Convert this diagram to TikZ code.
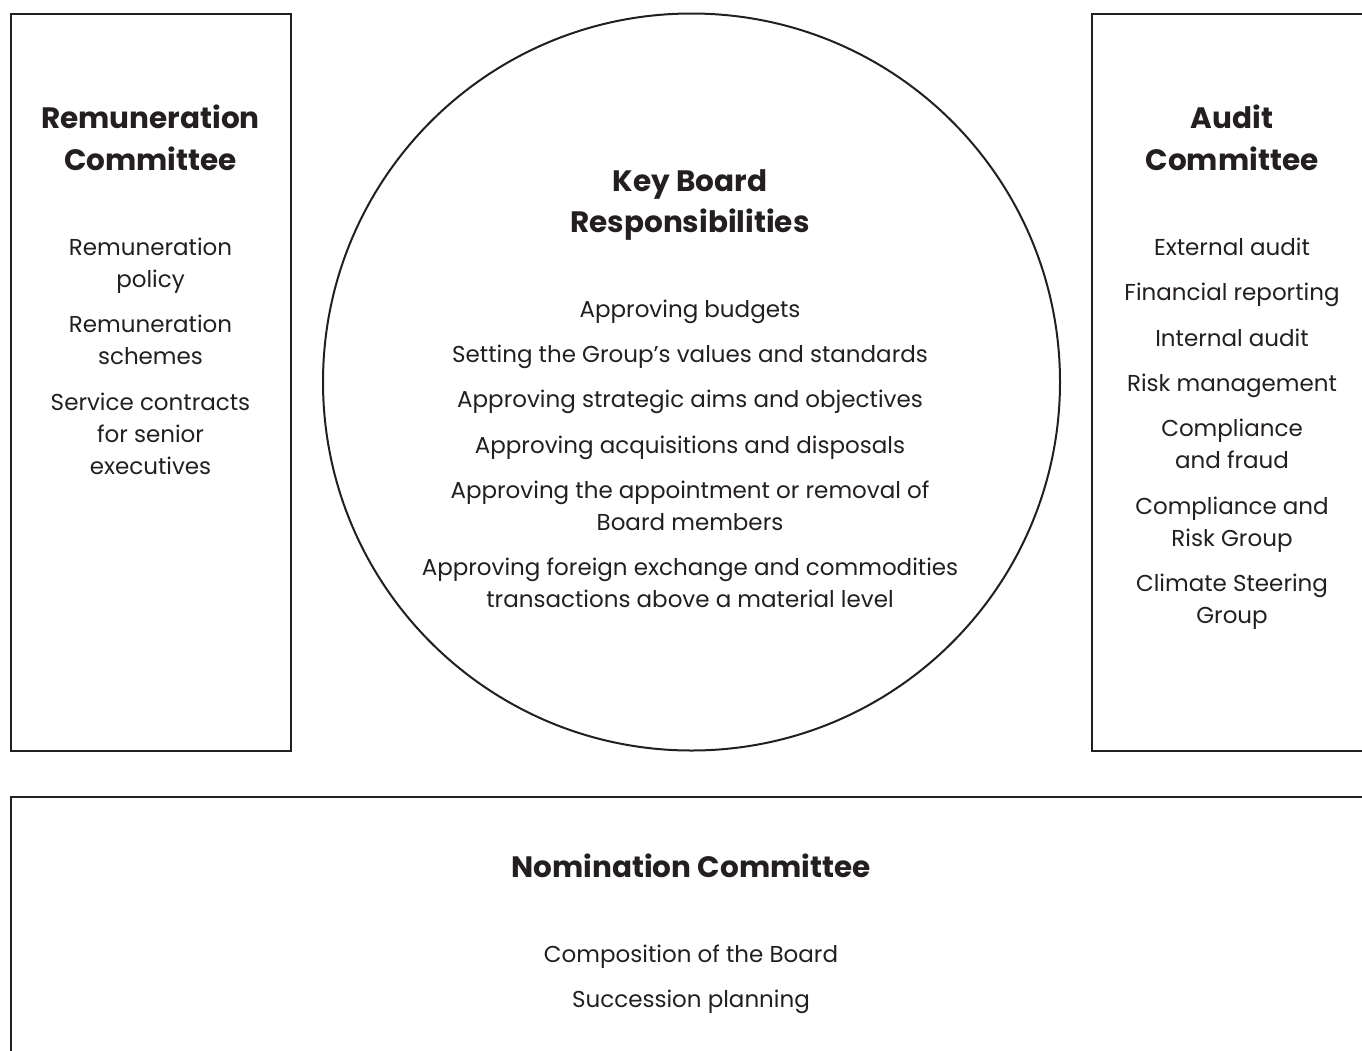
\documentclass[tikz,border=0pt]{standalone}
\usepackage{fontspec}
\setmainfont{Poppins}
\definecolor{ink}{HTML}{231F20}
\begin{document}
\begin{tikzpicture}[x=1pt,y=-1pt,
  frame/.style={draw=ink,line width=2pt},
  ttl/.style={anchor=base,inner sep=0pt,text=ink,font=\fontsize{29.5}{34}\selectfont\bfseries},
  itm/.style={anchor=base,inner sep=0pt,text=ink,font=\fontsize{23}{32}\selectfont}]
\useasboundingbox (0,0) rectangle (1362,1050);
\clip (0,0) rectangle (1362,1050);
% frames
\draw[frame] (11,14) rectangle (291,751);
\draw[frame] (1092,14) rectangle (1380,751);
\draw[frame] (11,797) rectangle (1380,1070);
\draw[frame] (691.5,382) circle (368.5);
% left
\node[ttl] (lt1) at (150.5,128) {Remuneration};
\node[ttl] (lt2) at (150.5,170) {Committee};
\foreach \y/\t [count=\i] in {247/Remuneration,279/policy,324/Remuneration,356/schemes,402/Service contracts,434/for senior,466/executives}
  \node[itm] (l\i) at (150.5,\y+8) {\t};
% right
\node[ttl] (rt1) at (1232,128) {Audit};
\node[ttl] (rt2) at (1232,170) {Committee};
\foreach \y/\t [count=\i] in {247/External audit,292/Financial reporting,338/Internal audit,383/Risk management,428/Compliance,460/and fraud,506/Compliance and,538/Risk Group,583/Climate Steering,615/Group}
  \node[itm] (r\i) at (1232,\y+8) {\t};
% centre
\node[ttl] (ct1) at (690,191) {Key Board};
\node[ttl] (ct2) at (690,232) {Responsibilities};
\foreach \y/\t [count=\i] in {309/Approving budgets,354/Setting the Group’s values and standards,399/Approving strategic aims and objectives,445/Approving acquisitions and disposals,490/Approving the appointment or removal of,522/Board members,567/Approving foreign exchange and commodities,599/transactions above a material level}
  \node[itm] (c\i) at (690,\y+8) {\t};
% bottom
\node[ttl] (bt) at (691,877) {Nomination Committee};
\node[itm] (b1) at (691,962) {Composition of the Board};
\node[itm] (b2) at (691,1007) {Succession planning};
\end{tikzpicture}
\end{document}
